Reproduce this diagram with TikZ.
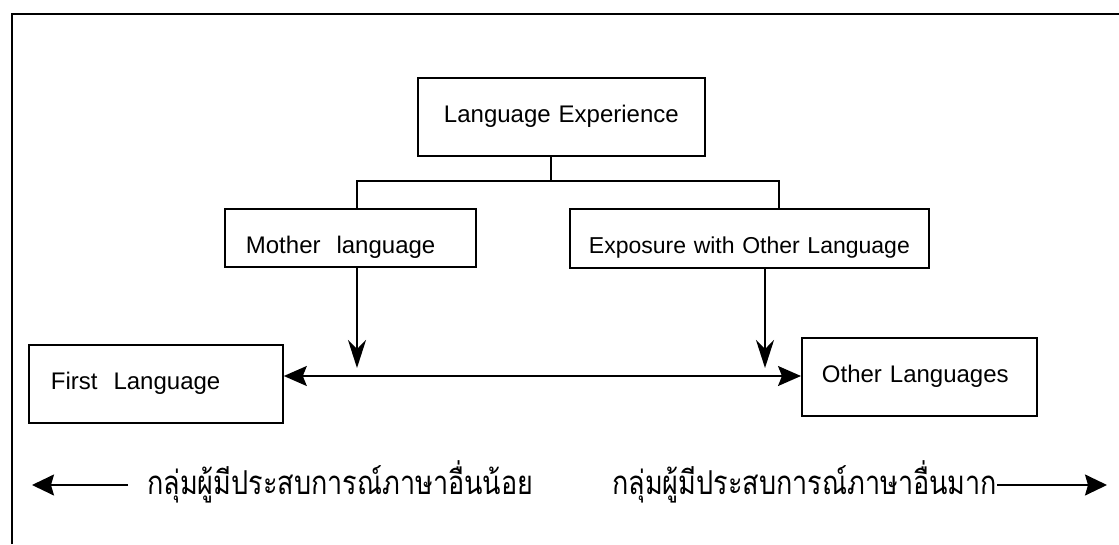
\documentclass[tikz,border=0pt]{standalone}
\usepackage{fontspec}
\usetikzlibrary{arrows.meta}
\newfontfamily\engfont{Liberation Sans}
\newfontfamily\thaifont[Script=Thai]{Loma}
\begin{document}
\begin{tikzpicture}[x=1pt,y=-1pt,
  box/.style={draw, line width=1.8pt, anchor=north west, inner ysep=0pt,
    font=\engfont\fontsize{24}{28}\selectfont},
  conn/.style={line width=1.8pt},
  dnarr/.style={conn, -{Stealth[length=28pt,width=18pt,inset=9pt]}},
  hzarr/.style={conn, {Stealth[length=23pt,width=20pt,inset=4pt]}-{Stealth[length=23pt,width=20pt,inset=4pt]}},
  btarr/.style={conn, -{Stealth[length=22pt,width=21pt,inset=3pt]}},
  thai/.style={inner sep=0pt, font=\thaifont\fontsize{27}{32}\selectfont}]
\useasboundingbox (0,0) rectangle (1119,544);
% frame
\draw[line width=2.6pt] (12,544) -- (12,14) -- (1119,14);
% boxes (text height = baseline - top, text depth = bottom - baseline)
\node[box, inner xsep=0pt, text width=287pt, align=center, text height=45pt, text depth=33pt]
  (LE) at (417,77) {Language Experience};
\node[box, inner xsep=21pt, text width=209pt, align=left, text height=45pt, text depth=13pt]
  (ML) at (224,208) {Mother\ \ language};
\node[box, inner xsep=14pt, text width=331pt, align=center, text height=45pt, text depth=14pt,
  font=\engfont\fontsize{23}{28}\selectfont]
  (EX) at (569,208) {Exposure with Other Language};
\node[box, inner xsep=20pt, text width=195pt, align=left, text height=45pt, text depth=33pt]
  (OL) at (801,337) {Other Languages};
\node[box, inner xsep=22pt, text width=210pt, align=left, text height=45pt, text depth=33pt]
  (FL) at (28,344) {First\ \ Language};
% tree connectors
\coordinate (jn) at (551,181);
\coordinate (bl) at (357,181);
\coordinate (br) at (779,181);
\draw[conn] (jn |- LE.south) -- (jn);
\draw[conn] (bl |- ML.north) -- (bl) -- (br) -- (br |- EX.north);
% down arrows
\coordinate (ta) at (357,368);
\coordinate (tb) at (765,368);
\draw[dnarr] (ta |- ML.south) -- (ta);
\draw[dnarr] (tb |- EX.south) -- (tb);
% double arrow
\coordinate (hy) at (0,376);
\draw[hzarr] (FL.east |- hy) -- (OL.west |- hy);
% bottom texts
\node[thai, anchor=west] (thL) at (147,482) {\scalebox{1}[1.22]{กลุ่มผู้มีประสบการณ์ภาษาอื่นน้อย}};
\node[thai, anchor=west] (thR) at (612,482) {\scalebox{1}[1.22]{กลุ่มผู้มีประสบการณ์ภาษาอื่นมาก}};
\coordinate (lt) at (128,485);
\coordinate (la) at (32,485);
\coordinate (ra) at (1107,485);
\draw[btarr] (lt) -- (la);
\draw[btarr] (thR.east |- ra) -- (ra);
\end{tikzpicture}
\end{document}
